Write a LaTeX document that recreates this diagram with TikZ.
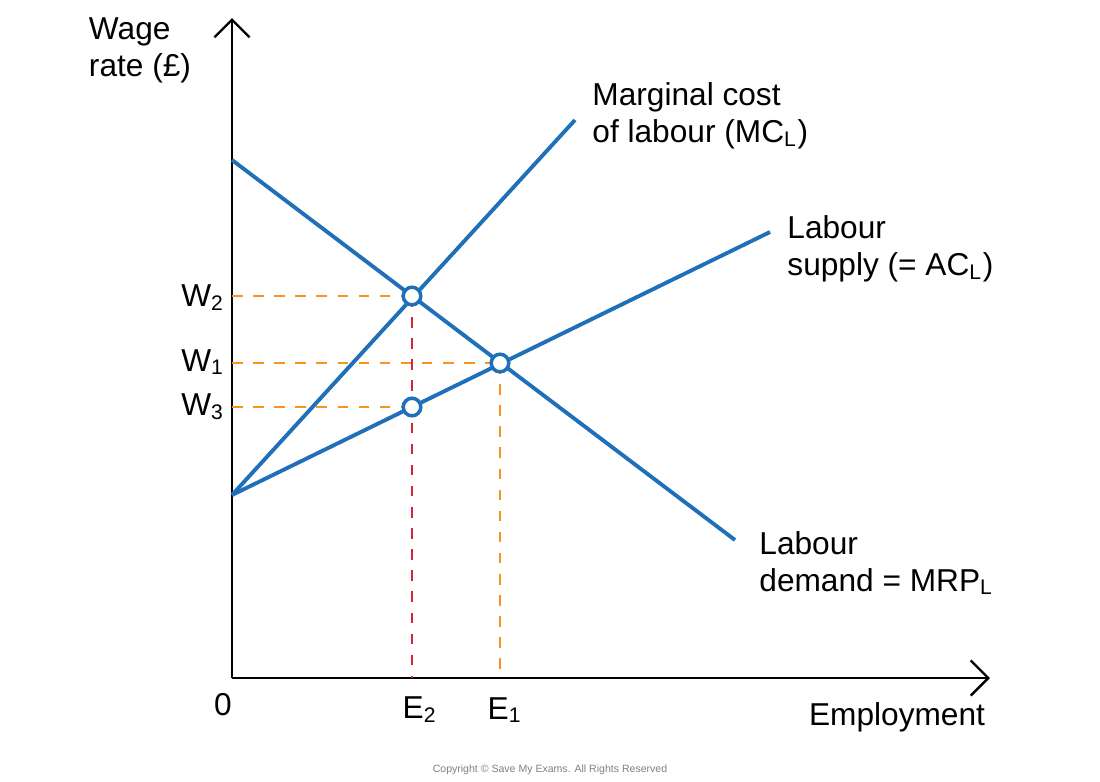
\documentclass[tikz,border=0pt]{standalone}
\usepackage{fontspec}
\usetikzlibrary{arrows.meta}
\setmainfont{Liberation Sans}
\definecolor{curve}{HTML}{1F70B8}
\definecolor{guide}{HTML}{F7941D}
\definecolor{guidered}{HTML}{D6243A}
\tikzset{
  curveline/.style={curve, line width=1.1pt},
  guideline/.style={guide, dashed, line width=0.8pt},
  pt/.style={circle, draw=curve, fill=white, line width=1pt, inner sep=0pt, minimum size=5pt},
  lbl/.style={font=\fontsize{9}{10.5}\selectfont, align=left}
}
\begin{document}
\begin{tikzpicture}[x=0.01cm, y=-0.01cm]
\useasboundingbox (0,0) rectangle (1100,781);
% axes
\coordinate (o) at (232,678); \coordinate (ytop) at (232,18); \coordinate (xend) at (990,678);
\draw[line width=0.7pt, -{Straight Barb[length=5pt]}] (o) -- (ytop);
\draw[line width=0.7pt, -{Straight Barb[length=5pt]}] (o) -- (xend);
% curves
\coordinate (d0) at (232,160); \coordinate (d1) at (735,540);
\coordinate (s0) at (232,495); \coordinate (m1) at (575,120); \coordinate (s1) at (770,232);
\coordinate (p2) at (412,296); \coordinate (p1) at (500,363); \coordinate (p3) at (412,407);
\coordinate (e2) at (412,678); \coordinate (e1) at (500,678);
\coordinate (w2) at (232,296); \coordinate (w1) at (232,363); \coordinate (w3) at (232,407);
% guides
\draw[guidered, dashed, line width=0.8pt] (p2) -- (e2);
\draw[guideline] (p1) -- (e1);
\draw[guideline] (w2) -- (p2); \draw[guideline] (w1) -- (p1); \draw[guideline] (w3) -- (p3);
\draw[curveline] (d0) -- (d1);
\draw[curveline] (s0) -- (m1);
\draw[curveline] (s0) -- (s1);
\node[pt] (n2) at (p2) {}; \node[pt] (n1) at (p1) {}; \node[pt] (n3) at (p3) {};
% labels
\node[lbl] (ylab) at (140,50) {Wage\\rate (£)};
\node[lbl] (xlab) at (897,717) {Employment};
\node[lbl] (zero) at (223,705) {0};
\node[lbl] (le2) at (420,710) {E\textsubscript{2}};
\node[lbl] (le1) at (505,710) {E\textsubscript{1}};
\node[lbl] (lw2) at (203,298) {W\textsubscript{2}};
\node[lbl] (lw1) at (203,362) {W\textsubscript{1}};
\node[lbl] (lw3) at (203,407) {W\textsubscript{3}};
\node[lbl, anchor=west] (lmc) at (580,116) {Marginal cost\\of labour (MC\textsubscript{L})};
\node[lbl, anchor=west] (lsup) at (775,249) {Labour\\supply (= AC\textsubscript{L})};
\node[lbl, anchor=west] (ldem) at (747,563) {Labour\\demand = MRP\textsubscript{L}};
\node[font=\fontsize{3}{4}\selectfont, gray] (copy) at (550,770) {Copyright © Save My Exams. All Rights Reserved};
\end{tikzpicture}
\end{document}
